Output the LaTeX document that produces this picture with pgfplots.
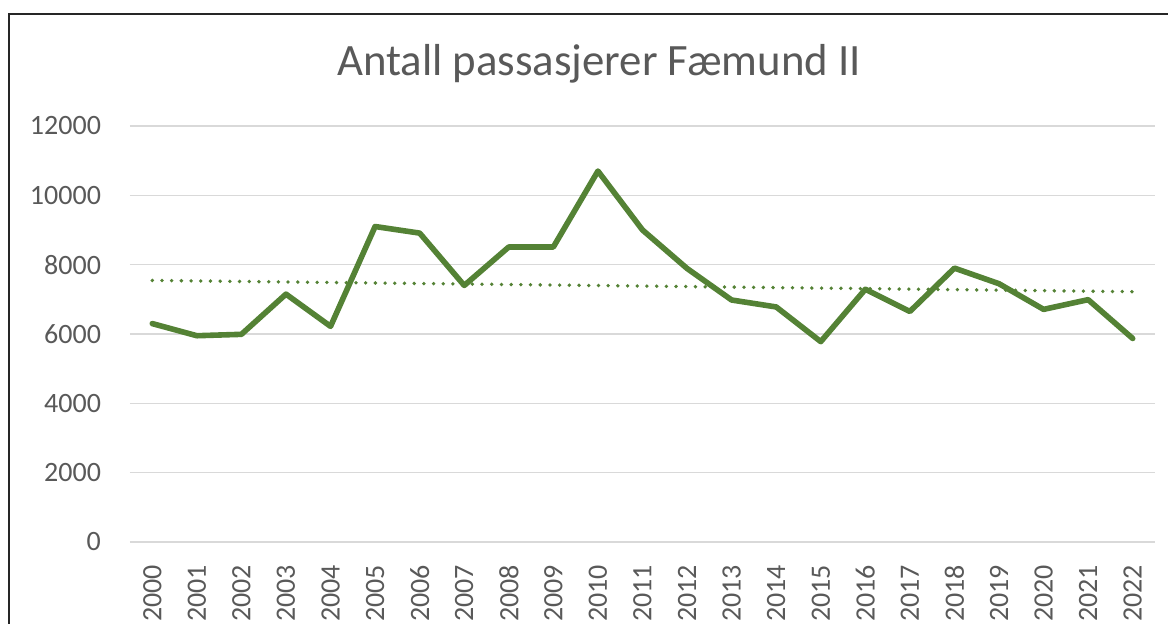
\documentclass[border=0pt]{standalone}
\usepackage{fontspec}
\setmainfont{Carlito}
\usepackage{pgfplots}
\pgfplotsset{compat=1.18}
\definecolor{lgreen}{HTML}{548235}
\definecolor{tgray}{HTML}{595959}
\definecolor{ggray}{HTML}{D9D9D9}
\begin{document}
\begin{tikzpicture}
\path[use as bounding box] (0,0) rectangle (584pt,312pt);
\draw[line width=0.6pt, color=black!85] (4.5pt,-2pt) -- (4.5pt,305pt) -- (590pt,305pt);
\node[text=tgray, font=\fontsize{22.4}{26}\selectfont] at (299.5pt,280pt) {Antall passasjerer Fæmund II};
\begin{axis}[
  at={(65pt,41pt)}, anchor=south west,
  scale only axis, width=512.5pt, height=208pt,
  xmin=-0.5, xmax=22.5, ymin=0, ymax=12000,
  axis line style={draw=none},
  xtick={0,...,22},
  xticklabels={2000,2001,2002,2003,2004,2005,2006,2007,2008,2009,2010,2011,2012,2013,2014,2015,2016,2017,2018,2019,2020,2021,2022},
  x tick label style={rotate=90, anchor=east, font=\fontsize{14}{16}\selectfont, text=tgray},
  ytick={0,2000,4000,6000,8000,10000,12000},
  y tick label style={font=\fontsize{14}{16}\selectfont, text=tgray},
  /pgf/number format/assume math mode=true,
  scaled y ticks=false,
  yticklabel style={/pgf/number format/1000 sep={}},
  major tick length=0pt,
  ymajorgrids, grid style={color=ggray, line width=0.75pt},
  xticklabel shift=8pt, yticklabel shift=11pt,
  clip=false,
]
\addplot[lgreen, line width=2.8pt, line join=round, line cap=round] coordinates {
(0,6300) (1,5950) (2,5990) (3,7150) (4,6220) (5,9100) (6,8910) (7,7400) (8,8510) (9,8510)
(10,10700) (11,9000) (12,7890) (13,6980) (14,6780) (15,5780) (16,7290) (17,6650) (18,7900) (19,7450)
(20,6710) (21,6990) (22,5870)
};
\addplot[lgreen, line width=1.9pt, line cap=round, dash pattern=on 0pt off 4.85pt] coordinates {
(0,7545) (22,7220)
};
\end{axis}
\end{tikzpicture}
\end{document}
